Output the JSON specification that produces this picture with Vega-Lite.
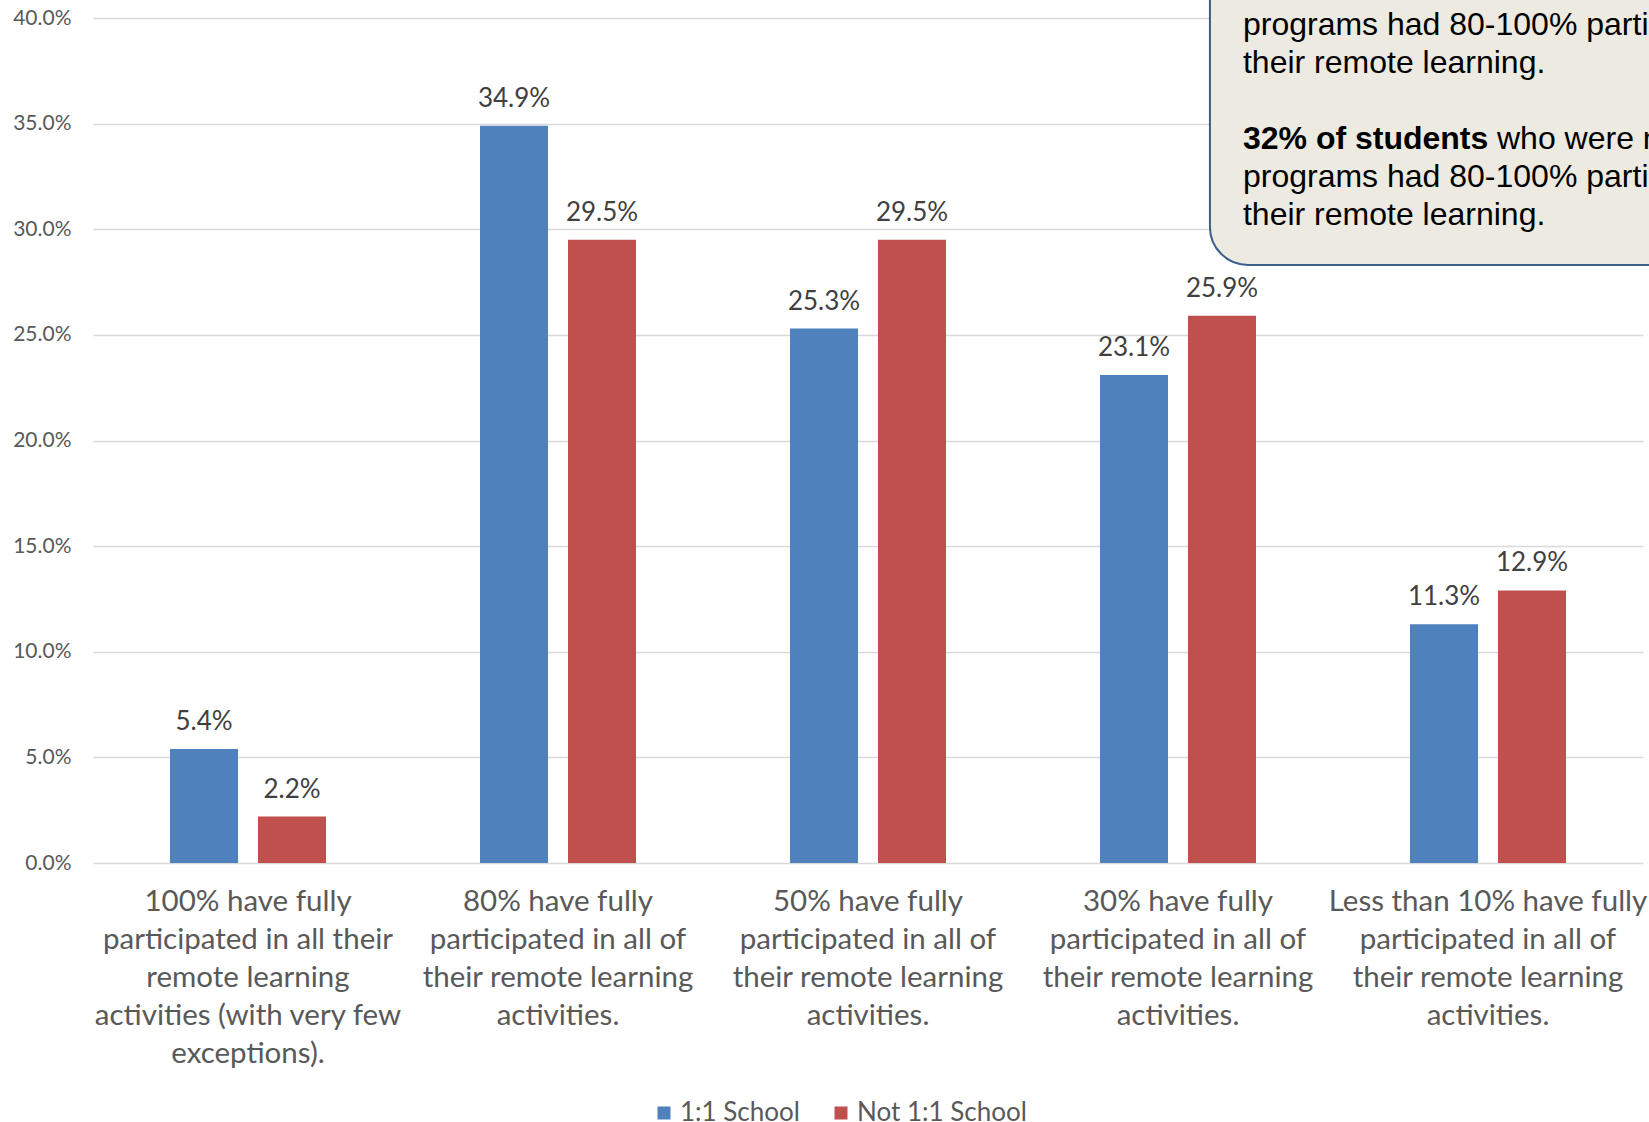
{
  "$schema": "https://vega.github.io/schema/vega-lite/v6.json",
  "autosize": {"type": "none"},
  "padding": {"left": 93, "top": 18, "right": 6, "bottom": 259},
  "width": 1550,
  "height": 845,
  "background": "white",
  "config": {"view": {"stroke": null}, "font": "Lato"},
  "datasets": {
    "bars": [
      {"category": "100% have fully|participated in all their|remote learning|activities (with very few|exceptions).", "school": "1:1 School", "share": 0.054},
      {"category": "100% have fully|participated in all their|remote learning|activities (with very few|exceptions).", "school": "Not 1:1 School", "share": 0.022},
      {"category": "80% have fully|participated in all of|their remote learning|activities.", "school": "1:1 School", "share": 0.349},
      {"category": "80% have fully|participated in all of|their remote learning|activities.", "school": "Not 1:1 School", "share": 0.295},
      {"category": "50% have fully|participated in all of|their remote learning|activities.", "school": "1:1 School", "share": 0.253},
      {"category": "50% have fully|participated in all of|their remote learning|activities.", "school": "Not 1:1 School", "share": 0.295},
      {"category": "30% have fully|participated in all of|their remote learning|activities.", "school": "1:1 School", "share": 0.231},
      {"category": "30% have fully|participated in all of|their remote learning|activities.", "school": "Not 1:1 School", "share": 0.259},
      {"category": "Less than 10% have fully|participated in all of|their remote learning|activities.", "school": "1:1 School", "share": 0.113},
      {"category": "Less than 10% have fully|participated in all of|their remote learning|activities.", "school": "Not 1:1 School", "share": 0.129}
    ],
    "box": [
      {"x0": 0.7206, "x1": 1.3, "y0": 0.2831, "y1": 0.6}
    ],
    "note": [
      {"tx": 0.7419, "ty": 0.3967, "t": "programs had 80-100% participation in"},
      {"tx": 0.7419, "ty": 0.3787, "t": "their remote learning."},
      {"tx": 0.9058, "ty": 0.3427, "t": "who were not in 1:1"},
      {"tx": 0.7419, "ty": 0.3247, "t": "programs had 80-100% participation in"},
      {"tx": 0.7419, "ty": 0.3067, "t": "their remote learning."}
    ],
    "noteBold": [
      {"tx": 0.7419, "ty": 0.3427, "t": "32% of students"}
    ]
  },
  "layer": [
    {
      "data": {"name": "bars"},
      "encoding": {
        "x": {
          "field": "category", "type": "nominal", "sort": null,
          "scale": {"paddingInner": 0, "paddingOuter": 0},
          "axis": {
            "title": null, "domain": false, "ticks": false, "grid": false,
            "labelAngle": 0, "labelExpr": "split(datum.label, '|')",
            "labelFont": "Lato", "labelFontSize": 29.5, "labelLineHeight": 38,
            "labelColor": "#595959", "labelPadding": 24, "labelLimit": 600,
            "labelOverlap": false, "labelBaseline": "top"
          }
        },
        "xOffset": {
          "field": "school", "type": "nominal", "sort": null,
          "scale": {"paddingInner": 0.227, "paddingOuter": 0.875}
        },
        "y": {
          "field": "share", "type": "quantitative",
          "scale": {"domain": [0, 0.4], "nice": false},
          "axis": {
            "title": null, "domain": false, "ticks": false,
            "values": [0, 0.05, 0.1, 0.15, 0.2, 0.25, 0.3, 0.35, 0.4],
            "format": ".1%", "labelFont": "Lato", "labelFontSize": 21,
            "labelColor": "#595959", "labelPadding": 22,
            "gridColor": "#d9d9d9", "gridWidth": 1.5
          }
        }
      },
      "layer": [
        {
          "mark": {"type": "bar"},
          "encoding": {
            "color": {
              "field": "school", "type": "nominal", "sort": null,
              "scale": {"domain": ["1:1 School", "Not 1:1 School"], "range": ["#4F81BD", "#C0504D"]},
              "legend": {
                "orient": "none", "legendX": 558, "legendY": 1082,
                "direction": "horizontal", "title": null,
                "symbolType": "square", "symbolSize": 169, "symbolStrokeWidth": 0,
                "labelFont": "Lato", "labelFontSize": 26, "labelColor": "#595959",
                "columnPadding": 28, "labelOffset": 3, "labelLimit": 0
              }
            }
          }
        },
        {
          "mark": {"type": "text", "baseline": "alphabetic", "dy": -19, "font": "Lato", "fontSize": 26, "color": "#404040"},
          "encoding": {
            "text": {"field": "share", "type": "quantitative", "format": ".1%"}
          }
        }
      ]
    },
    {
      "data": {"name": "box"},
      "mark": {"type": "rect", "fill": "#ECEAE1", "stroke": "#3B5E8C", "strokeWidth": 2, "cornerRadius": 38, "clip": false},
      "encoding": {
        "x": {"field": "x0", "type": "quantitative", "scale": {"domain": [0, 1], "nice": false, "zero": false}, "axis": null},
        "x2": {"field": "x1"},
        "y": {"field": "y0", "type": "quantitative", "scale": {"domain": [0, 0.4], "nice": false}, "axis": null},
        "y2": {"field": "y1"}
      }
    },
    {
      "data": {"name": "note"},
      "mark": {"type": "text", "align": "left", "baseline": "middle", "font": "Liberation Sans", "fontSize": 32, "color": "#000000", "clip": false},
      "encoding": {
        "x": {"field": "tx", "type": "quantitative", "scale": {"domain": [0, 1], "nice": false, "zero": false}, "axis": null},
        "y": {"field": "ty", "type": "quantitative", "scale": {"domain": [0, 0.4], "nice": false}, "axis": null},
        "text": {"field": "t", "type": "nominal"}
      }
    },
    {
      "data": {"name": "noteBold"},
      "mark": {"type": "text", "align": "left", "baseline": "middle", "font": "Liberation Sans", "fontSize": 32, "fontWeight": "bold", "color": "#000000", "clip": false},
      "encoding": {
        "x": {"field": "tx", "type": "quantitative", "scale": {"domain": [0, 1], "nice": false, "zero": false}, "axis": null},
        "y": {"field": "ty", "type": "quantitative", "scale": {"domain": [0, 0.4], "nice": false}, "axis": null},
        "text": {"field": "t", "type": "nominal"}
      }
    }
  ],
  "resolve": {"scale": {"x": "independent", "y": "independent"}}
}
